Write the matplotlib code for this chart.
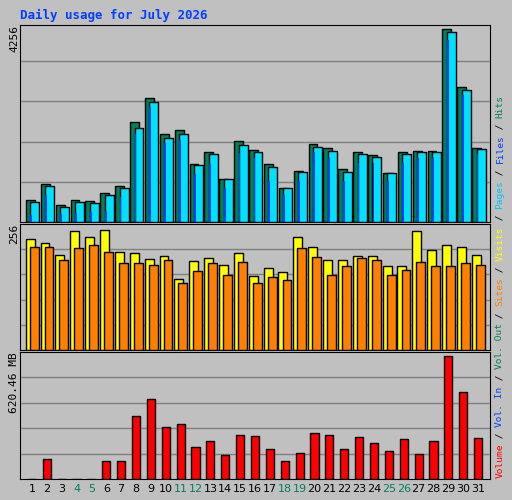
import numpy as np
import matplotlib.pyplot as plt

days = np.arange(1, 32)
hits = [477, 846, 369, 477, 456, 629, 803, 2213, 2734, 1931, 2018, 1280, 1541, 955, 1779, 1584,
        1280, 760, 1128, 1714, 1628, 1172, 1541, 1476, 1085, 1541, 1562, 1562, 4256, 2973, 1628]
files = [430, 800, 340, 450, 420, 600, 760, 2080, 2650, 1850, 1950, 1260, 1500, 950, 1700, 1550,
         1220, 740, 1100, 1650, 1560, 1100, 1500, 1430, 1070, 1500, 1540, 1540, 4190, 2900, 1600]
pages = [150, 600, 170, 190, 210, 250, 550, 1950, 2540, 1750, 1800, 1060, 1280, 760, 1530, 1400,
         900, 600, 900, 1550, 1400, 900, 1300, 1300, 900, 1300, 1400, 1400, 4000, 2800, 1500]
visits = [229, 221, 196, 246, 233, 248, 202, 200, 188, 194, 147, 184, 190, 176, 200, 153,
          169, 161, 233, 213, 186, 186, 194, 194, 173, 173, 246, 207, 217, 213, 196]
sites = [213, 213, 186, 211, 217, 202, 180, 180, 176, 186, 138, 163, 180, 155, 182, 138,
         151, 145, 211, 192, 155, 173, 190, 186, 155, 165, 182, 173, 173, 180, 176]
volume = [2, 100, 2, 2, 2, 91, 91, 318, 403, 262, 277, 161, 192, 121, 222, 217,
          151, 91, 131, 232, 222, 151, 212, 181, 141, 202, 126, 192, 620.46, 438, 207]
weekend = [4, 5, 11, 12, 18, 19, 25, 26]

bg = '#c0c0c0'
fig = plt.figure(figsize=(5.12, 5.0), dpi=100, facecolor=bg)
W, H = 512, 500

def make_ax(top, bottom):
    ax = fig.add_axes([20 / W, (H - bottom) / H, 470 / W, (bottom - top) / H])
    ax.set_facecolor(bg)
    ax.set_xlim(0.2, 31.8)
    ax.set_xticks([])
    ax.set_yticks([])
    for s in ax.spines.values():
        s.set_color('black')
    return ax

ec = dict(edgecolor='black', linewidth=1)

ax1 = make_ax(25, 222)
ax1.set_ylim(0, 4256 * 1.02)
for g in range(1, 5):
    ax1.axhline(4256 * 1.02 * g / 4.9, color='#808080', lw=1, zorder=0)
ax1.bar(days - 0.1, hits, width=0.6, color='#00805c', **ec, zorder=2)
ax1.bar(days + 0.2, files, width=0.6, color='#00e0ff', **ec, zorder=3)
ax1.bar(days - 0.04, pages, width=0.12, color='#0040ff', linewidth=0, zorder=4)
fig.text(14 / W, (H - 25) / H, '4256', rotation=90, ha='center', va='top',
         family='DejaVu Sans Mono', fontsize=8)

ax2 = make_ax(224, 350)
ax2.set_ylim(0, 260)
for g in range(1, 5):
    ax2.axhline(260 * g / 5, color='#808080', lw=1, zorder=0)
ax2.bar(days - 0.12, visits, width=0.6, color='#ffff00', **ec, zorder=2)
ax2.bar(days + 0.15, sites, width=0.6, color='#ff8000', **ec, zorder=3)
fig.text(14 / W, (H - 224) / H, '256', rotation=90, ha='center', va='top',
         family='DejaVu Sans Mono', fontsize=8)

ax3 = make_ax(352, 479)
ax3.set_ylim(0, 640)
for g in range(1, 5):
    ax3.axhline(640 * g / 5, color='#808080', lw=1, zorder=0)
ax3.bar(days, volume, width=0.55, color='#ff0000', **ec, zorder=2)
fig.text(14 / W, (H - 352) / H, '620.46 MB', rotation=90, ha='center', va='top',
         family='DejaVu Sans Mono', fontsize=8)

for d in days:
    fig.text((20 + 470 * (d - 0.2) / 31.6) / W, (H - 489) / H, str(d), ha='center', va='center',
             fontsize=8, color='#00805c' if d in weekend else 'black')

fig.text(20 / W, (H - 15) / H, 'Daily usage for July 2026', color='#0040ff',
         family='DejaVu Sans Mono', fontweight='bold', fontsize=9, va='center')

pieces = [('Volume', '#ff0000'), (' / ', 'black'), ('Vol. In', '#0040ff'), (' / ', 'black'),
          ('Vol. Out', '#00805c'), (' / ', 'black'), ('Sites', '#ff8000'), (' / ', 'black'),
          ('Visits', '#ffff00'), (' / ', 'black'), ('Pages', '#00c0ff'), (' / ', 'black'),
          ('Files', '#0040ff'), (' / ', 'black'), ('Hits', '#00805c')]
y = 478
step = 5.72
for txt, col in pieces:
    fig.text(500 / W, (H - y) / H, txt, rotation=90, ha='center', va='bottom', color=col,
             family='DejaVu Sans Mono', fontsize=6.8)
    y -= len(txt) * step

fig.savefig('out.png', dpi=100, facecolor=bg)
